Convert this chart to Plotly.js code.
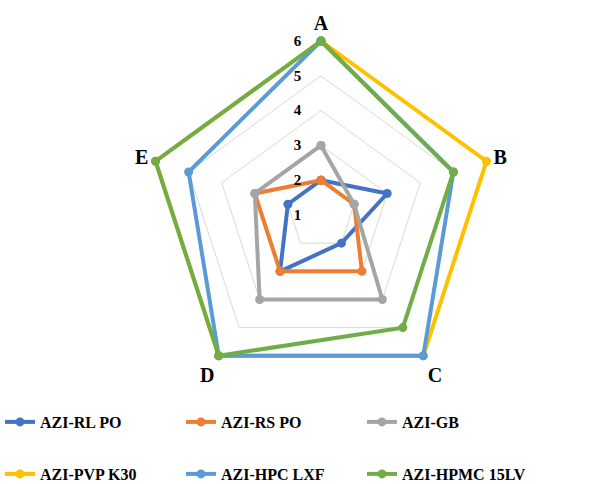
<!DOCTYPE html>
<html>
<head>
<meta charset="utf-8">
<script src="https://cdn.plot.ly/plotly-3.0.1.min.js"></script>
<style>
  html, body { margin: 0; padding: 0; background: #fff; }
  #chart { width: 611px; height: 484px; }
</style>
</head>
<body>
<div id="chart"></div>
<script>
// Radar categories
const categories = ['A', 'B', 'C', 'D', 'E'];

// Series values per category (A..E)
const rlPo    = [2, 3, 2, 3, 2];
const rsPo    = [2, 2, 3, 3, 3];
const gb      = [3, 2, 4, 4, 3];
const pvpK30  = [6, 6, 6, 6, 6];
const hpcLxf  = [6, 5, 6, 6, 5];
const hpmc15  = [6, 5, 5, 6, 6];

const seriesNames  = ['AZI-RL PO', 'AZI-RS PO', 'AZI-GB', 'AZI-PVP K30', 'AZI-HPC LXF', 'AZI-HPMC 15LV'];
const seriesValues = [rlPo, rsPo, gb, pvpK30, hpcLxf, hpmc15];
const seriesColors = ['#4472C4', '#ED7D31', '#A5A5A5', '#FFC000', '#5B9BD5', '#70AD47'];

const tickValues = [1, 2, 3, 4, 5, 6];

const serif = '"Liberation Serif", "Times New Roman", serif';

// Radial extent goes a little past 6 so the outer polygons are not clipped
const rMin = 1, rMax = 6.2;
const cx = 321, cy = 215, r6 = 174;
const rOuter = r6 * (rMax - rMin) / (6 - rMin);

const traces = seriesValues.map((vals, i) => ({
  type: 'scatterpolar',
  mode: 'lines+markers',
  name: seriesNames[i],
  r: vals.concat([vals[0]]),
  theta: categories.concat([categories[0]]),
  cliponaxis: false,
  line: { color: seriesColors[i], width: 4 },
  marker: { color: seriesColors[i], size: 9 },
  legend: i < 3 ? 'legend' : 'legend2',
  hoverinfo: 'name+r+theta'
}));

const legendCommon = {
  orientation: 'h',
  xanchor: 'left',
  yanchor: 'middle',
  entrywidth: 136,
  entrywidthmode: 'pixels',
  itemwidth: 30,
  bgcolor: 'rgba(0,0,0,0)',
  font: { family: serif, size: 16, color: '#000', weight: 'bold' }
};

const layout = {
  width: 611,
  height: 484,
  margin: { l: 0, r: 0, t: 0, b: 0, autoexpand: false },
  paper_bgcolor: '#fff',
  font: { family: serif, color: '#000' },
  polar: {
    domain: {
      x: [(cx - rOuter) / 611, (cx + rOuter) / 611],
      y: [1 - (cy + rOuter) / 484, 1 - (cy - rOuter) / 484]
    },
    bgcolor: '#fff',
    gridshape: 'linear',
    angularaxis: {
      direction: 'clockwise',
      rotation: 90,
      showgrid: false,
      showline: false,
      ticks: '',
      tickfont: { family: serif, size: 20, color: '#000', weight: 'bold' }
    },
    radialaxis: {
      range: [rMin, rMax],
      tickvals: tickValues,
      angle: 90,
      side: 'counterclockwise',
      tickangle: 90,
      showline: false,
      ticks: 'outside',
      ticklen: 14,
      tickcolor: 'rgba(0,0,0,0)',
      gridcolor: '#D9D9D9',
      gridwidth: 1,
      tickfont: { family: serif, size: 15, color: '#000', weight: 'bold' }
    }
  },
  showlegend: true,
  legend: Object.assign({}, legendCommon, { x: 0, y: 1 - 422 / 484 }),
  legend2: Object.assign({}, legendCommon, { x: 0, y: 1 - 474 / 484 })
};

Plotly.newPlot('chart', traces, layout, { displayModeBar: false, staticPlot: true });
</script>
</body>
</html>
